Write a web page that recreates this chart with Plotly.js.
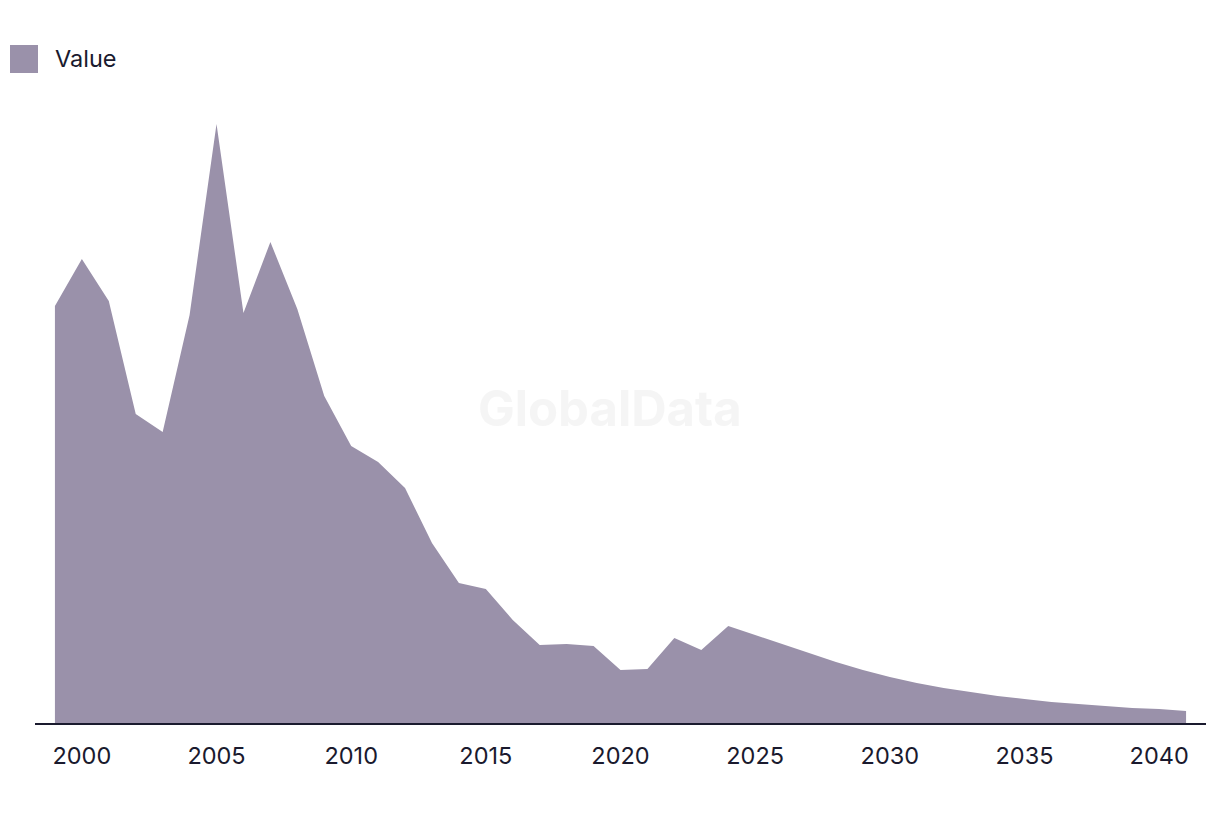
<!DOCTYPE html>
<html>
<head>
<meta charset="utf-8">
<script src="https://cdn.plot.ly/plotly-3.0.1.min.js"></script>
<style>html,body{margin:0;padding:0;background:#fff;}#chart{width:1220px;height:814px;}</style>
</head>
<body>
<div id="chart"></div>
<script>
const years = [1999,2000,2001,2002,2003,2004,2005,2006,2007,2008,2009,2010,2011,2012,2013,2014,2015,2016,2017,2018,2019,2020,2021,2022,2023,2024,2025,2026,2027,2028,2029,2030,2031,2032,2033,2034,2035,2036,2037,2038,2039,2040,2041];
const values = [417,464,422,309,291,408,599,410,481,414,327,277,261,235,180,140,134,103,78,79,77,53,54,85,73,97,88,79,70,61,53,46,40,35,31,27,24,21,19,17,15,14,12];
const tickYears = [2000,2005,2010,2015,2020,2025,2030,2035,2040];
const seriesName = 'Value';
const fillColor = '#9a91aa';
const textColor = '#1a1a2e';

const trace = {
  x: years, y: values, type: 'scatter', mode: 'lines',
  fill: 'tozeroy', fillcolor: fillColor,
  line: {width: 0, color: fillColor},
  name: seriesName, showlegend: false, hoverinfo: 'x+y'
};

const layout = {
  width: 1220, height: 814,
  margin: {l: 35, r: 14, t: 100, b: 91},
  paper_bgcolor: '#ffffff', plot_bgcolor: '#ffffff',
  font: {family: 'Inter, "Noto Sans", sans-serif', color: textColor, size: 23},
  xaxis: {
    range: [1998.26, 2041.74], tickvals: tickYears, ticktext: tickYears.map(String),
    showgrid: false, zeroline: false, showline: true, linecolor: textColor, linewidth: 2,
    ticks: '', ticklabelstandoff: 11, tickfont: {size: 23.5, color: textColor}, fixedrange: true
  },
  yaxis: {
    range: [0, 623], showgrid: false, zeroline: false, showline: false,
    showticklabels: false, ticks: '', fixedrange: true
  },
  shapes: [
    {type: 'rect', xref: 'paper', yref: 'paper', xsizemode: 'pixel', ysizemode: 'pixel',
     xanchor: -0.0299, yanchor: 1.0, x0: 10, x1: 38, y0: 55, y1: 27,
     fillcolor: fillColor, line: {width: 0}}
  ],
  annotations: [
    {text: seriesName, xref: 'paper', yref: 'paper', x: (53-35)/1171, y: 1 + (100-58)/623,
     xanchor: 'left', yanchor: 'middle', showarrow: false, font: {size: 23.5, color: textColor}},
    {text: '<b>GlobalData</b>', xref: 'paper', yref: 'paper', x: (610-35)/1171, y: (723-408)/623,
     xanchor: 'center', yanchor: 'middle', showarrow: false,
     font: {size: 49, color: 'rgba(235,235,235,0.5)', family: 'Inter, "Liberation Sans", sans-serif'}}
  ]
};

Plotly.newPlot('chart', [trace], layout, {displayModeBar: false, staticPlot: true});
</script>
</body>
</html>
